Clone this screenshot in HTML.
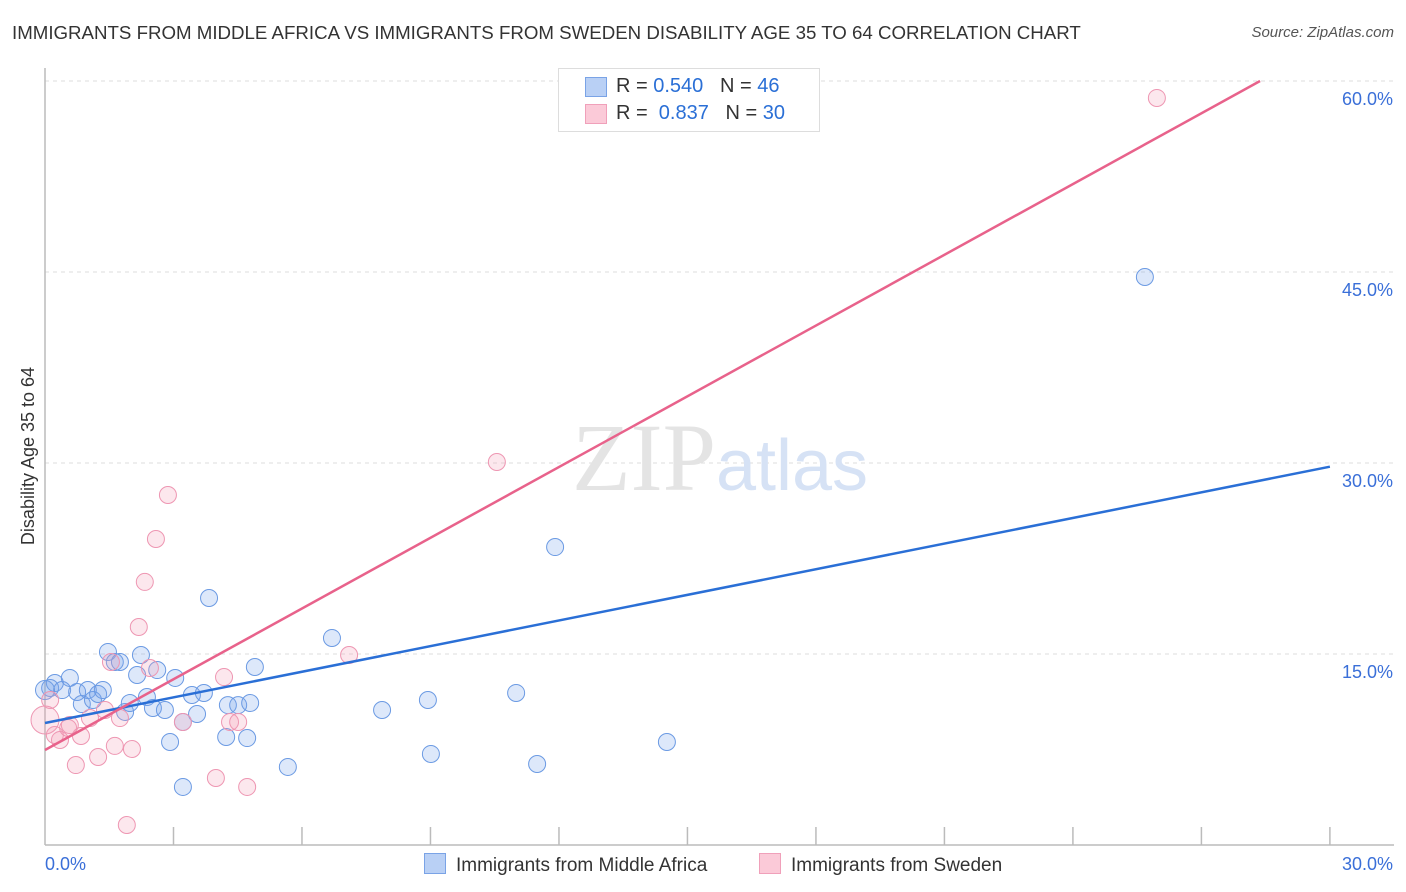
<!DOCTYPE html>
<html><head><meta charset="utf-8"><style>
body{margin:0;background:#fff;font-family:"Liberation Sans",sans-serif;}
#wrap{position:relative;width:1406px;height:892px;overflow:hidden;}
.t{position:absolute;white-space:nowrap;}
</style></head><body>
<div id="wrap">
<div class="t" style="left:12px;top:22px;font-size:18.7px;color:#333;">IMMIGRANTS FROM MIDDLE AFRICA VS IMMIGRANTS FROM SWEDEN DISABILITY AGE 35 TO 64 CORRELATION CHART</div>
<div class="t" style="right:12px;top:24px;font-size:15px;color:#555;font-style:italic;">Source: ZipAtlas.com</div>
<svg id="chart" width="1406" height="892" style="position:absolute;left:0;top:0"></svg>
</div>
<script>
const blueX=[0.12,0.23,0.40,0.58,0.75,0.86,1.00,1.12,1.24,1.35,1.47,1.63,1.75,1.87,1.98,2.15,2.24,2.38,2.52,2.62,2.80,2.92,3.04,3.22,3.22,3.43,3.55,3.71,3.83,4.23,4.27,4.51,4.72,4.79,4.90,5.67,6.70,7.87,8.94,9.01,11.00,11.49,11.91,14.52,25.68,0];
const blueY=[12.33,12.72,12.17,13.12,12.02,11.07,12.17,11.39,11.86,12.17,15.16,14.37,14.37,10.45,11.15,13.35,14.92,11.62,10.76,13.74,10.60,8.09,13.12,4.56,9.66,11.78,10.29,11.94,19.40,8.48,10.99,10.99,8.40,11.15,13.98,6.13,16.26,10.60,11.39,7.15,11.94,6.36,23.40,8.09,44.61,12.17];
const pinkX=[0.12,0.23,0.35,0.54,0.72,0.84,1.05,1.24,1.40,1.54,1.63,1.75,1.91,2.03,2.19,2.33,2.45,2.59,2.87,3.22,3.99,4.18,4.32,4.51,4.72,7.10,10.55,25.96,0.58,0];
const pinkY=[11.39,8.64,8.25,9.19,6.28,8.56,9.97,6.91,10.60,14.37,7.78,9.97,1.57,7.54,17.12,20.66,13.90,24.03,27.49,9.66,5.26,13.19,9.66,9.66,4.56,14.92,30.08,58.67,9.42,9.82];
const blueFit=[9.58,0.671];
const pinkFit=[7.46,1.852];
const yTicks=[15,30,45,60];
const xTickLabels=["0.0%","30.0%"];
const svg=document.getElementById('chart');const NS='http://www.w3.org/2000/svg';
const X=v=>45+v*42.83, Y=v=>845-v*12.733;
function mk(tag,a,name){const e=document.createElementNS(NS,tag);for(const k in a)e.setAttribute(k,a[k]);


svg.appendChild(e);return e;}
yTicks.forEach(v=>{mk('line',{x1:45,x2:1394,y1:Y(v),y2:Y(v),stroke:'#ddd','stroke-dasharray':'4,4'},'gridline');
const t=mk('text',{x:1393,y:Y(v)+24,'text-anchor':'end','font-size':18,fill:'#3a6fd8','font-family':'Liberation Sans'},'y-tick-label');t.textContent=v.toFixed(1)+'%';});
mk('line',{x1:45,x2:45,y1:68,y2:845,stroke:'#bbb','stroke-width':1.5},'y-axis');
mk('line',{x1:45,x2:1394,y1:845,y2:845,stroke:'#bbb','stroke-width':1.5},'x-axis');
for(let i=1;i<=10;i++){mk('line',{x1:X(i*3),x2:X(i*3),y1:827,y2:845,stroke:'#bbb','stroke-width':1.5},'x-tick');}
let t=mk('text',{x:45,y:870,'font-size':18,fill:'#3a6fd8'},'x-tick-label');t.textContent=xTickLabels[0];
t=mk('text',{x:1393,y:870,'text-anchor':'end','font-size':18,fill:'#3a6fd8'},'x-tick-label');t.textContent=xTickLabels[1];
t=mk('text',{x:34,y:456,'text-anchor':'middle','font-size':18,fill:'#333',transform:'rotate(-90 34 456)'},'y-axis-title');t.textContent='Disability Age 35 to 64';
t=mk('text',{x:720,y:490,'text-anchor':'middle','font-size':96,fill:'#e4e4e4','font-family':'Liberation Serif'},'watermark');t.innerHTML='ZIP<tspan fill="#d6e2f5" font-family="Liberation Sans" font-size="72">atlas</tspan>';
blueX.forEach((x,i)=>{mk('circle',{cx:X(x),cy:Y(blueY[i]),r:i==45?9.5:8.5,fill:'rgba(120,165,235,0.25)',stroke:'#6b9ae3','stroke-width':1},'blue-point');});
pinkX.forEach((x,i)=>{mk('circle',{cx:X(x),cy:Y(pinkY[i]),r:i==29?14:8.5,fill:'rgba(245,160,185,0.25)',stroke:'#ee96b2','stroke-width':1},'pink-point');});
mk('line',{x1:X(0),y1:Y(blueFit[0]),x2:X(30),y2:Y(blueFit[0]+30*blueFit[1]),stroke:'#2a6fd6','stroke-width':2.5},'blue-trend-line');
const px=(60-pinkFit[0])/pinkFit[1];
mk('line',{x1:X(0),y1:Y(pinkFit[0]),x2:X(px),y2:Y(60),stroke:'#e8628b','stroke-width':2.5},'pink-trend-line');
</script>
<div class="t" style="left:558px;top:68px;width:260px;height:62px;border:1px solid #ddd;background:#fff;font-size:20px;color:#333;">
<div style="position:absolute;left:26px;top:8px;width:20px;height:18px;background:#b9d0f5;border:1px solid #7aa3e6"></div>
<div style="position:absolute;left:57px;top:6px">R = <span style="color:#2a6fd6">0.540</span>&nbsp;&nbsp;&nbsp;N = <span style="color:#2a6fd6">46</span></div>
<div style="position:absolute;left:26px;top:35px;width:20px;height:18px;background:#fbcad8;border:1px solid #f0a0ba"></div>
<div style="position:absolute;left:57px;top:33px">R = &nbsp;<span style="color:#2a6fd6">0.837</span>&nbsp;&nbsp;&nbsp;N = <span style="color:#2a6fd6">30</span></div>
</div>
<div class="t" style="left:424px;top:853px;font-size:19px;color:#333;"><span style="display:inline-block;width:20px;height:19px;background:#b9d0f5;border:1px solid #7aa3e6;vertical-align:-3px;margin-right:10px"></span>Immigrants from Middle Africa</div>
<div class="t" style="left:759px;top:853px;font-size:19px;color:#333;"><span style="display:inline-block;width:20px;height:19px;background:#fbcad8;border:1px solid #f0a0ba;vertical-align:-3px;margin-right:10px"></span>Immigrants from Sweden</div>
</body></html>
